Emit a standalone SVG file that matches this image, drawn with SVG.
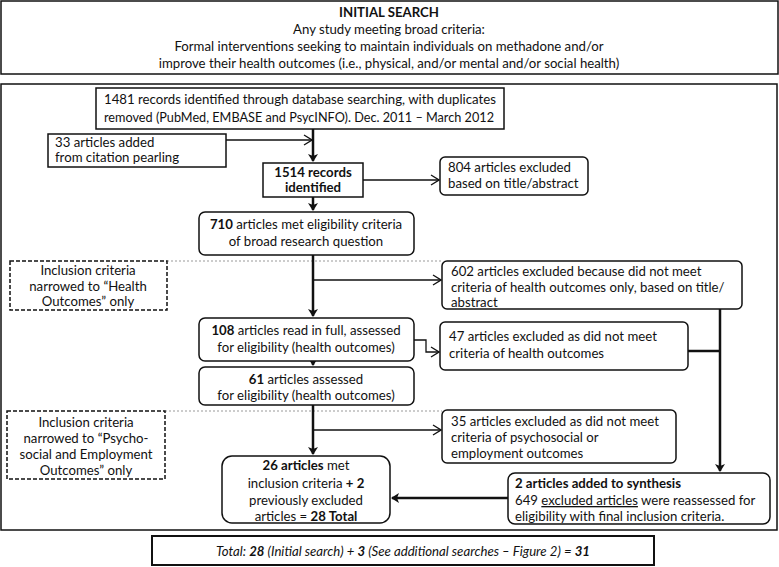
<svg xmlns="http://www.w3.org/2000/svg" width="779" height="567" viewBox="0 0 779 567">
<defs>
<style>
text{font-family:Lato,"Open Sans","Liberation Sans",sans-serif;font-size:13.2px;fill:#111}
.c{text-anchor:middle}
.b{font-weight:bold}
.box{fill:#fff;stroke:#111;stroke-width:1.5}
.dash{fill:#fff;stroke:#111;stroke-width:1.5;stroke-dasharray:4 2}
.thick{fill:none;stroke:#111;stroke-width:2.5}
.thin{fill:none;stroke:#111;stroke-width:1.3}
.dot{fill:none;stroke:#999;stroke-width:1;stroke-dasharray:2 2}
</style>
<marker id="ah" markerWidth="10" markerHeight="10" refX="7" refY="5" orient="auto" markerUnits="userSpaceOnUse">
<path d="M0,0 L8,5 L0,10 L2,5 z" fill="#111"/>
</marker>
<marker id="ao" markerWidth="10" markerHeight="12" refX="9" refY="6" orient="auto" markerUnits="userSpaceOnUse">
<polyline points="1,1 9,6 1,11" fill="none" stroke="#111" stroke-width="1.3"/>
</marker>
</defs>
<rect width="779" height="567" fill="#fff"/>

<g id="initial-search">
<rect class="box" x="1" y="1" width="777" height="73"/>
<text class="c b" x="389" y="17">INITIAL SEARCH</text>
<text class="c" x="389" y="34">Any study meeting broad criteria:</text>
<text class="c" x="389" y="51">Formal interventions seeking to maintain individuals on methadone and/or</text>
<text class="c" x="389" y="68">improve their health outcomes (i.e., physical, and/or mental and/or social health)</text>
</g>

<g id="frame">
<rect fill="none" stroke="#111" stroke-width="1.5" x="1" y="84" width="776" height="446"/>
</g>

<g id="connectors">
<line class="dot" x1="167" y1="261" x2="442" y2="261"/>
<line class="dot" x1="165" y1="411" x2="442" y2="411"/>
<line class="thick" x1="313" y1="129" x2="313" y2="161" marker-end="url(#ah)"/>
<line class="thin" x1="226" y1="140" x2="312" y2="140" marker-end="url(#ao)"/>
<line class="thin" x1="363" y1="180" x2="439" y2="180" marker-end="url(#ao)"/>
<line class="thick" x1="313" y1="197" x2="313" y2="210" marker-end="url(#ah)"/>
<line class="thick" x1="313" y1="255" x2="313" y2="316" marker-end="url(#ah)"/>
<line class="thin" x1="313" y1="280" x2="441" y2="280" marker-end="url(#ao)"/>
<polyline class="thin" points="414,340 426,340 426,352 439,352" marker-end="url(#ao)"/>
<line class="thick" x1="313" y1="361" x2="313" y2="365" marker-end="url(#ah)"/>
<line class="thick" x1="313" y1="405" x2="313" y2="454" marker-end="url(#ah)"/>
<line class="thin" x1="313" y1="430" x2="441" y2="430" marker-end="url(#ao)"/>
<line class="thick" x1="688" y1="351" x2="720" y2="351"/>
<line class="thick" x1="720" y1="309" x2="720" y2="471" marker-end="url(#ah)"/>
<line class="thick" x1="508" y1="498" x2="392" y2="498" marker-end="url(#ah)"/>
</g>

<g id="n1481">
<rect class="box" x="96" y="88" width="408" height="41"/>
<text x="104" y="104" textLength="392" lengthAdjust="spacingAndGlyphs">1481 records identified through database searching, with duplicates</text>
<text x="104" y="122" textLength="390" lengthAdjust="spacingAndGlyphs">removed (PubMed, EMBASE and PsycINFO). Dec. 2011 – March 2012</text>
</g>

<g id="n33">
<rect class="box" x="48" y="134" width="178" height="33"/>
<text x="55" y="147">33 articles added</text>
<text x="55" y="162">from citation pearling</text>
</g>

<g id="n1514">
<rect class="box" x="263" y="163" width="100" height="34"/>
<text class="c b" x="313" y="177">1514 records</text>
<text class="c b" x="313" y="192">identified</text>
</g>

<g id="n804">
<rect class="box" x="440" y="157" width="148" height="38" rx="5"/>
<text x="448" y="172">804 articles excluded</text>
<text x="448" y="188">based on title/abstract</text>
</g>

<g id="n710">
<rect class="box" x="199" y="212" width="215" height="43" rx="6"/>
<text class="c" x="306" y="229"><tspan class="b">710</tspan> articles met eligibility criteria</text>
<text class="c" x="306" y="246">of broad research question</text>
</g>

<g id="health-criteria">
<rect class="dash" x="10" y="261" width="157" height="49"/>
<text class="c" x="88" y="275">Inclusion criteria</text>
<text class="c" x="88" y="290.5">narrowed to “Health</text>
<text class="c" x="88" y="306">Outcomes” only</text>
</g>

<g id="n602">
<rect class="box" x="442" y="261" width="300" height="48" rx="5"/>
<text x="451" y="276">602 articles excluded because did not meet</text>
<text x="451" y="292">criteria of health outcomes only, based on title/</text>
<text x="451" y="307">abstract</text>
</g>

<g id="n108">
<rect class="box" x="199" y="318" width="215" height="43" rx="6"/>
<text class="c" x="306" y="335"><tspan class="b">108</tspan> articles read in full, assessed</text>
<text class="c" x="306" y="352">for eligibility (health outcomes)</text>
</g>

<g id="n47">
<rect class="box" x="440" y="322" width="248" height="48" rx="5"/>
<text x="449" y="341">47 articles excluded as did not meet</text>
<text x="449" y="358">criteria of health outcomes</text>
</g>

<g id="n61">
<rect class="box" x="199" y="367" width="215" height="38" rx="6"/>
<text class="c" x="306" y="384"><tspan class="b">61</tspan> articles assessed</text>
<text class="c" x="306" y="400">for eligibility (health outcomes)</text>
</g>

<g id="psycho-criteria">
<rect class="dash" x="7" y="411" width="158" height="68"/>
<text class="c" x="86" y="427">Inclusion criteria</text>
<text class="c" x="86" y="443">narrowed to “Psycho-</text>
<text class="c" x="86" y="459">social and Employment</text>
<text class="c" x="86" y="475">Outcomes” only</text>
</g>

<g id="n35">
<rect class="box" x="442" y="410" width="234" height="53" rx="5"/>
<text x="451" y="426">35 articles excluded as did not meet</text>
<text x="451" y="442">criteria of psychosocial or</text>
<text x="451" y="458">employment outcomes</text>
</g>

<g id="n26">
<rect class="box" x="222" y="456" width="168" height="67" rx="10"/>
<text class="c" x="306" y="470"><tspan class="b">26 articles</tspan> met</text>
<text class="c" x="306" y="488">inclusion criteria <tspan class="b">+ 2</tspan></text>
<text class="c" x="306" y="505">previously excluded</text>
<text class="c" x="306" y="521">articles  = <tspan class="b">28 Total</tspan></text>
</g>

<g id="n2added">
<rect class="box" x="508" y="473" width="262" height="51" rx="7"/>
<text class="b" x="515" y="488">2 articles added to synthesis</text>
<text x="515" y="505">649 <tspan text-decoration="underline">excluded articles</tspan> were reassessed for</text>
<text x="515" y="521">eligibility with final inclusion criteria.</text>
</g>

<g id="total">
<rect fill="#fff" stroke="#111" stroke-width="2" x="152" y="536" width="502" height="29"/>
<text class="c" x="403" y="556" font-style="italic" font-size="14.3">Total: <tspan class="b">28</tspan> (Initial search) + <tspan class="b">3</tspan> (See additional searches – Figure 2) = <tspan class="b">31</tspan></text>
</g>
</svg>
